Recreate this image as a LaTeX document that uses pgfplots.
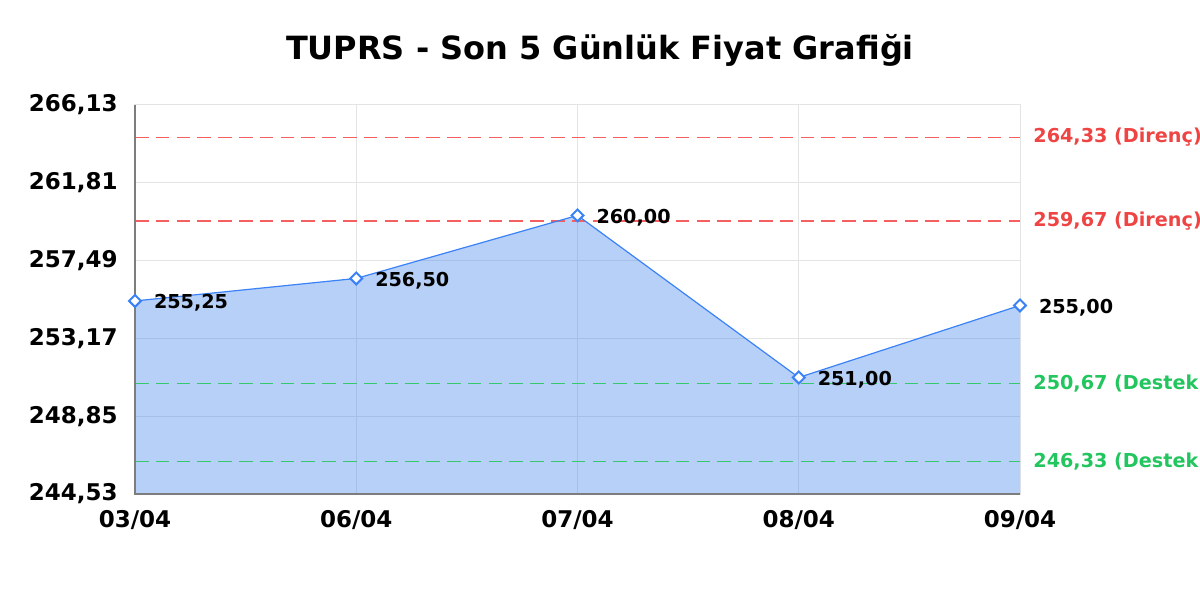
\documentclass[border=0pt]{standalone}
\usepackage{pgfplots}
\usepackage{pgfplotstable}
\pgfplotsset{compat=1.18}
\usepackage{fontspec}
\setmainfont{DejaVu Sans}
\definecolor{lineblue}{RGB}{59,130,246}
\definecolor{fillblue}{RGB}{75,137,237}
\definecolor{resred}{RGB}{239,68,68}
\definecolor{resredline}{RGB}{245,95,95}
\definecolor{supgreen}{RGB}{34,197,94}
\definecolor{supgreenline}{RGB}{55,200,110}
\definecolor{gridgray}{RGB}{228,228,228}
\definecolor{axgray}{RGB}{125,125,125}
\tikzset{
  refline/.style={color=#1, line width=0.9pt, dash pattern=on 6.8pt off 3.6pt},
  reflabel/.style={anchor=west, xshift=6.5pt, inner sep=0pt, color=#1, font=\bfseries\fontsize{9.6}{11}\selectfont},
}

\pgfplotstableread{
x y lab
0 255.25 255,25
1 256.50 256,50
2 260.00 260,00
3 251.00 251,00
4 255.00 255,00
}\prices

\begin{document}
\begin{tikzpicture}
\useasboundingbox (0,0) rectangle (600pt,300pt);
\node[font=\bfseries\fontsize{16}{18}\selectfont, anchor=base, inner sep=0pt] at (300pt,270pt) {TUPRS - Son 5 Günlük Fiyat Grafiği};
\begin{axis}[
  at={(67.5pt,53pt)}, anchor=south west,
  width=442.5pt, height=194.5pt, scale only axis,
  xmin=0, xmax=4, ymin=244.53, ymax=266.13,
  xtick={0,1,2,3,4}, xticklabels={03/04,06/04,07/04,08/04,09/04},
  ytick={244.53,248.85,253.17,257.49,261.81,266.13},
  yticklabels={{244,53},{248,85},{253,17},{257,49},{261,81},{266,13}},
  grid=major, major grid style={color=gridgray, line width=0.5pt},
  major tick length=0pt,
  axis line style={color=gridgray, line width=0.5pt},
  tick label style={font=\bfseries\fontsize{11.5}{13}\selectfont, inner sep=0pt},
  xticklabel style={anchor=north, yshift=-8pt},
  yticklabel style={anchor=east, xshift=-8.5pt},
  clip=false,
]
\addplot[draw=none, fill=fillblue, fill opacity=0.4] coordinates {(0,244.53) (0,255.25) (1,256.50) (2,260.00) (3,251.00) (4,255.00) (4,244.53)} -- cycle;

\addplot[refline=resredline] coordinates {(0,264.33) (4,264.33)};
\addplot[refline=resredline] coordinates {(0,259.67) (4,259.67)};
\addplot[refline=supgreenline] coordinates {(0,250.67) (4,250.67)};
\addplot[refline=supgreenline] coordinates {(0,246.33) (4,246.33)};

\addplot[color=lineblue, line width=0.6pt, mark=square*, mark size=2.1pt,
  mark options={fill=white, color=lineblue, fill=white, line width=1pt, solid, rotate=45},
  nodes near coords, point meta=explicit symbolic,
  every node near coord/.style={anchor=west, xshift=9pt, yshift=-1pt, inner sep=0pt, color=black, font=\bfseries\fontsize{9.6}{11}\selectfont}]
  table[x=x, y=y, meta=lab] {\prices};

\node[reflabel=resred] at (axis cs:4,264.33) {264,33 (Direnç)};
\node[reflabel=resred] at (axis cs:4,259.67) {259,67 (Direnç)};
\node[reflabel=supgreen] at (axis cs:4,250.67) {250,67 (Destek)};
\node[reflabel=supgreen] at (axis cs:4,246.33) {246,33 (Destek)};

\draw[color=axgray, line width=0.6pt] (rel axis cs:0,1) -- (rel axis cs:0,0) -- (rel axis cs:1,0);
\end{axis}
\end{tikzpicture}
\end{document}
